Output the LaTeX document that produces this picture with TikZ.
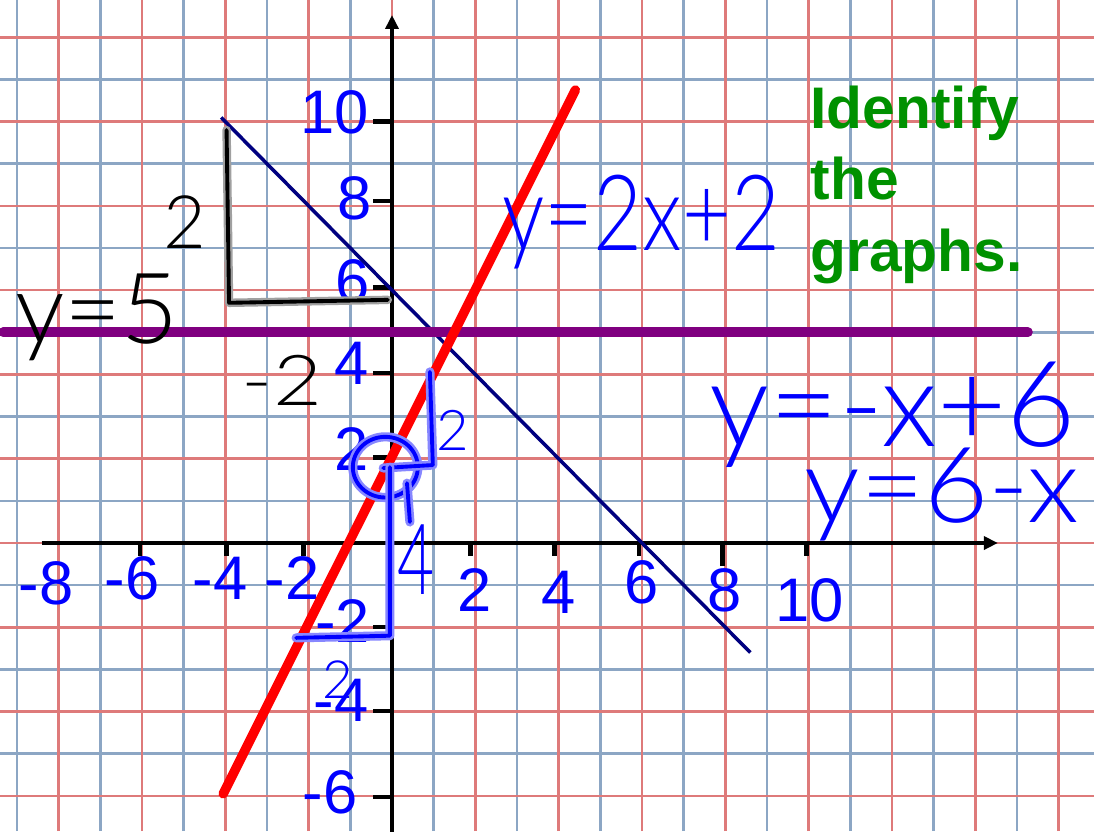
\documentclass[tikz,border=0pt]{standalone}
\usepackage{fontspec}
\setmainfont{Liberation Sans}
\newfontfamily\handfont{Lato Light}
\usetikzlibrary{arrows.meta}
\definecolor{gridred}{RGB}{222,122,122}
\definecolor{gridblue}{RGB}{140,166,196}
\definecolor{labelblue}{RGB}{0,0,255}
\definecolor{titlegreen}{RGB}{0,145,0}
\definecolor{linenavy}{RGB}{0,0,128}
\definecolor{lineplum}{RGB}{128,0,128}
\definecolor{haloblue}{RGB}{135,135,255}
\definecolor{halogray}{RGB}{160,160,160}

\begin{document}
\begin{tikzpicture}[
  x=0.4167cm, y=0.4214cm,
  redline/.style={gridred, line width=0.75pt},
  blueline/.style={gridblue, line width=0.75pt},
  axis/.style={black, line width=1.3pt},
  tick/.style={black, line width=1.3pt},
  num/.style={text=labelblue, inner sep=0pt, font=\fontsize{17.5}{20}\selectfont},
  title/.style={text=titlegreen, inner sep=0pt, align=left, font=\bfseries\fontsize{16.7}{20.35}\selectfont},
  penblue/.style={draw=blue, line width=1.1pt, line cap=round, line join=round,
    preaction={draw=haloblue, line width=2.6pt, line cap=round, line join=round}},
  penblack/.style={draw=black, line width=1.1pt, line cap=round, line join=round,
    preaction={draw=halogray, line width=2.4pt, line cap=round, line join=round}},
  handblue/.style={text=blue, inner sep=0pt},
  handblack/.style={text=black, inner sep=0pt}
]
\useasboundingbox (-9.407,-6.834) rectangle (16.847,12.886);
\fill[white] (-9.407,-6.834) rectangle (16.847,12.886);

% graph paper
\foreach \gx in {-9,-7,...,15} \draw[blueline] (\gx,-6.834) -- (\gx,12.886);
\foreach \gy in {-5,-3,...,11} \draw[blueline] (-9.407,\gy) -- (16.847,\gy);
\foreach \gx in {-8,-6,...,16} \draw[redline] (\gx,-6.834) -- (\gx,12.886);
\foreach \gy in {-6,-4,...,12} \draw[redline] (-9.407,\gy) -- (16.847,\gy);

% axes and ticks
\draw[axis, -{Triangle[length=1.4mm, width=1.3mm]}] (-8.41,0) -- (14.54,0);
\draw[axis, -{Triangle[length=1.4mm, width=1.3mm]}] (0,-7) -- (0,12.53);
\foreach \tx in {-6.05,-3.97,-2.12,1.88,3.90,5.93,9.95} \draw[tick] (\tx,0) -- (\tx,-0.3);
\draw[tick] (7.93,0) -- (7.93,-0.55);
\foreach \ty in {10,8.12,6.06,4.03,2.03,-1.99,-3.99,-6.03} \draw[tick] (-0.45,\ty) -- (0,\ty);

% axis numbers
\foreach \nx/\ny/\t in {-8.30/-0.95/-8, -6.24/-0.83/-6, -4.13/-0.83/-4, -2.40/-0.83/-2,
    1.99/-1.12/2, 4.01/-1.16/4, 6.0/-0.93/6, 7.97/-1.12/8, 10.03/-1.35/10}
  \node[num] (x\t) at (\nx,\ny) {\t};
\foreach \nx/\ny/\t in {-1.37/10.23/10, -0.89/8.19/8, -0.94/6.22/6, -0.96/4.27/4,
    -0.98/2.23/2, -1.18/-1.85/-2, -1.22/-3.73/-4, -1.49/-5.91/-6}
  \node[num] (y\t) at (\nx,\ny) {\t};

% the three graphs
\draw[linenavy, line width=1pt] (-4.1,10.1) -- (8.6,-2.6);
\draw[lineplum, line width=2.8pt, line cap=round] (-9.33,5) -- (15.26,5);
\draw[red, line width=2.7pt, line cap=round] (-4.05,-5.95) -- (4.4,10.75);

\node[title, anchor=north west] (task) at (10.03,10.87) {Identify\\the\\graphs.};

% handwriting
\draw[penblack] (-3.97,9.80) -- (-3.91,5.70) -- (-0.1,5.77);
\node[handblack, font=\handfont\fontsize{21}{25}\selectfont] (rise) at (-4.97,7.62) {2};
\node[handblack, xscale=1.2, font=\handfont\fontsize{20}{24}\selectfont] (run) at (-2.64,3.87) {-2};
\node[handblack, font=\handfont\fontsize{28}{32}\selectfont] (eqa) at (-7.08,5.35) {y=5};

\draw[penblue] (-0.16,1.80) ellipse [x radius=0.78, y radius=0.72];
\draw[penblue] (0.91,4.06) -- (0.98,1.85) -- (-0.21,1.78);
\draw[penblue] (-0.05,1.8) -- (-0.05,-2.2) -- (-2.3,-2.25);
\draw[penblue] (0.36,1.42) -- (0.43,0.50);
\node[handblue, font=\handfont\fontsize{16}{20}\selectfont] (riseb) at (1.46,2.68) {2};
\node[handblue, xscale=0.65, font=\handfont\fontsize{28}{32}\selectfont] (runb) at (0.58,-0.40) {4};
\node[handblue, font=\handfont\fontsize{15}{18}\selectfont] (fix) at (-1.30,-3.25) {2};
\node[handblue, xscale=0.8, font=\handfont\fontsize{30}{36}\selectfont] (eqb) at (5.98,7.62) {y=2x+2};
\node[handblue, xscale=1.0, font=\handfont\fontsize{34}{40}\selectfont] (eqc) at (12.02,3.05) {y=-x+6};
\node[handblue, xscale=1.05, font=\handfont\fontsize{30}{36}\selectfont] (eqd) at (13.2,1.15) {y=6-x};
\end{tikzpicture}
\end{document}
